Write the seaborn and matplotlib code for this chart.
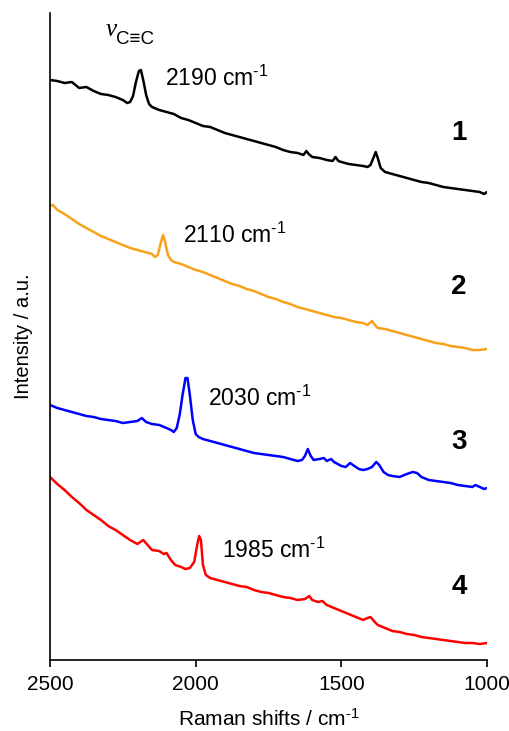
import matplotlib
matplotlib.use("Agg")
import matplotlib.pyplot as plt
import seaborn as sns

sns.set_theme(style="white")
plt.rcParams['font.family'] = ['Liberation Sans', 'DejaVu Sans']
plt.rcParams['mathtext.fontset'] = 'custom'
plt.rcParams['mathtext.rm'] = 'Liberation Sans'
plt.rcParams['mathtext.it'] = 'Liberation Sans:italic'
plt.rcParams['text.color'] = 'black'
plt.rcParams['axes.labelcolor'] = 'black'
plt.rcParams['xtick.color'] = 'black'

# ---- data (intensity in arbitrary units incl. stacking offset) ----
wn1 = [2500, 2475, 2450, 2425, 2400, 2375, 2350, 2325, 2300, 2275, 2250, 2235, 2225, 2215, 2205, 2195,
       2188, 2180, 2170, 2160, 2150, 2125, 2100, 2075, 2050, 2025, 2000, 1975, 1950, 1925, 1900, 1875,
       1850, 1825, 1800, 1775, 1750, 1725, 1700, 1675, 1650, 1630, 1620, 1612, 1600, 1575, 1550, 1530,
       1520, 1510, 1500, 1475, 1450, 1425, 1410, 1400, 1390, 1382, 1375, 1365, 1350, 1325, 1300, 1275,
       1250, 1225, 1200, 1175, 1150, 1125, 1100, 1075, 1050, 1025, 1010, 1000]
int1 = [580, 579, 577, 578, 572, 573, 569, 566, 565, 563, 560, 557, 558, 564, 578, 589,
        590, 580, 565, 556, 553, 550, 548, 546, 542, 540, 537, 534, 533, 530, 527, 525,
        523, 521, 519, 517, 515, 513, 510, 508, 507, 505, 509, 506, 503, 502, 500, 499,
        503, 499, 498, 496, 495, 494, 493, 495, 502, 508, 502, 492, 488, 486, 484, 482,
        480, 478, 477, 475, 473, 472, 471, 470, 469, 468, 466, 468]

wn2 = [2500, 2490, 2475, 2450, 2425, 2400, 2375, 2350, 2325, 2300, 2275, 2250, 2225, 2200, 2175, 2150,
       2140, 2130, 2120, 2112, 2105, 2095, 2085, 2075, 2050, 2025, 2000, 1975, 1950, 1925, 1900, 1875,
       1850, 1825, 1800, 1775, 1750, 1725, 1700, 1675, 1650, 1625, 1600, 1575, 1550, 1525, 1500, 1475,
       1450, 1425, 1410, 1395, 1385, 1375, 1350, 1325, 1300, 1275, 1250, 1225, 1200, 1175, 1150, 1125,
       1100, 1075, 1050, 1025, 1000]
int2 = [454, 455, 450, 446, 441, 436, 432, 428, 424, 421, 418, 415, 412, 410, 408, 406,
        403, 405, 417, 425, 418, 405, 400, 398, 396, 393, 390, 388, 385, 382, 379, 376,
        374, 371, 369, 366, 363, 361, 358, 356, 353, 351, 349, 347, 345, 343, 342, 340,
        338, 337, 335, 339, 335, 332, 331, 329, 327, 325, 323, 321, 319, 317, 316, 314,
        313, 312, 310, 310, 311]

wn3 = [2500, 2475, 2450, 2425, 2400, 2375, 2350, 2325, 2300, 2275, 2250, 2225, 2200, 2185, 2170, 2150,
       2125, 2100, 2085, 2075, 2065, 2055, 2045, 2035, 2028, 2020, 2010, 2000, 1990, 1975, 1950, 1925,
       1900, 1875, 1850, 1825, 1800, 1775, 1750, 1725, 1700, 1675, 1650, 1635, 1625, 1615, 1605, 1595,
       1575, 1560, 1550, 1535, 1525, 1500, 1485, 1470, 1455, 1440, 1425, 1410, 1395, 1380, 1370, 1355,
       1340, 1325, 1300, 1275, 1255, 1240, 1225, 1200, 1175, 1150, 1125, 1100, 1075, 1050, 1040, 1025,
       1010, 1000]
int3 = [255, 252, 250, 248, 246, 244, 243, 241, 240, 239, 237, 238, 239, 242, 238, 236,
        235, 232, 230, 228, 232, 245, 265, 282, 282, 265, 240, 226, 223, 221, 219, 217,
        215, 213, 211, 209, 207, 206, 205, 204, 203, 201, 199, 200, 204, 211, 204, 200,
        201, 202, 199, 201, 198, 194, 193, 197, 194, 191, 190, 191, 193, 198, 195, 188,
        185, 184, 183, 186, 188, 187, 183, 180, 179, 178, 177, 175, 174, 173, 175, 173,
        171, 172]

wn4 = [2500, 2475, 2450, 2425, 2400, 2375, 2350, 2325, 2300, 2275, 2250, 2225, 2200, 2180, 2165, 2150,
       2125, 2110, 2100, 2085, 2070, 2050, 2035, 2020, 2005, 1995, 1988, 1982, 1975, 1965, 1950, 1925,
       1900, 1875, 1850, 1825, 1800, 1775, 1750, 1725, 1700, 1675, 1650, 1625, 1610, 1600, 1580, 1565,
       1550, 1525, 1500, 1475, 1450, 1425, 1410, 1400, 1385, 1375, 1350, 1325, 1300, 1275, 1250, 1225,
       1200, 1175, 1150, 1125, 1100, 1075, 1050, 1025, 1000]
int4 = [183, 176, 170, 163, 157, 150, 145, 140, 134, 130, 125, 120, 116, 120, 115, 110,
        109, 106, 107, 100, 95, 93, 91, 92, 98, 115, 124, 120, 95, 85, 82, 80,
        78, 76, 74, 73, 70, 68, 67, 65, 63, 62, 60, 61, 64, 60, 58, 59,
        55, 52, 49, 46, 43, 40, 42, 43, 38, 35, 32, 29, 28, 26, 25, 23,
        22, 21, 20, 19, 18, 17, 17, 16, 17]

colors = ["#000000", "#F7A21B", "#0000FF", "#FF0000"]
peak_labels = ["2190", "2110", "2030", "1985"]
sample_labels = ["1", "2", "3", "4"]
xticks = [2500, 2000, 1500, 1000]

fig = plt.figure(figsize=(5.10, 7.31), dpi=100)
ax = fig.add_axes([50/510, 71/731, 437/510, 647/731])

for wn, it, c in zip([wn1, wn2, wn3, wn4], [int1, int2, int3, int4], colors):
    sns.lineplot(x=wn, y=it, color=c, lw=1.8, ax=ax, sort=False)

ax.set_xlim(2500, 1000)
ax.set_ylim(0, 647)
ax.set_xticks(xticks)
ax.set_xticklabels([str(t) for t in xticks], fontsize=15)
ax.set_yticks([])
for s in ["top", "right"]:
    ax.spines[s].set_visible(False)
for s in ["left", "bottom"]:
    ax.spines[s].set_color("black")
    ax.spines[s].set_linewidth(1.2)
ax.tick_params(axis="x", direction="out", length=5, width=1.2, color="black", bottom=True, pad=6)

sup = "$^{\\mathrm{\u2010}1}$"
ax.set_xlabel("Raman shifts / cm" + sup, fontsize=15, labelpad=10)
ax.set_ylabel("Intensity / a.u.", fontsize=14.5, labelpad=12)

# nu label
ax.text(2310, 630, "ν", fontsize=18, fontstyle="italic", family=["Liberation Serif", "DejaVu Serif"],
        va="center", ha="left")
ax.text(2272, 621, "C≡C", fontsize=13.5, family=["Liberation Sans", "DejaVu Sans"], va="center", ha="left")

peak_pos = [(2105, 582), (2044, 425), (1958, 262), (1910, 110)]
for (px, py), lab in zip(peak_pos, peak_labels):
    ax.text(px, py, lab + " cm" + sup, fontsize=16.5, va="center", ha="left")

num_pos = [(1096, 527), (1096, 373), (1096, 218), (1096, 73)]
for (px, py), lab in zip(num_pos, sample_labels):
    ax.text(px, py, lab, fontsize=20, fontweight="bold", va="center", ha="center")

fig.savefig("out.png", dpi=100)
